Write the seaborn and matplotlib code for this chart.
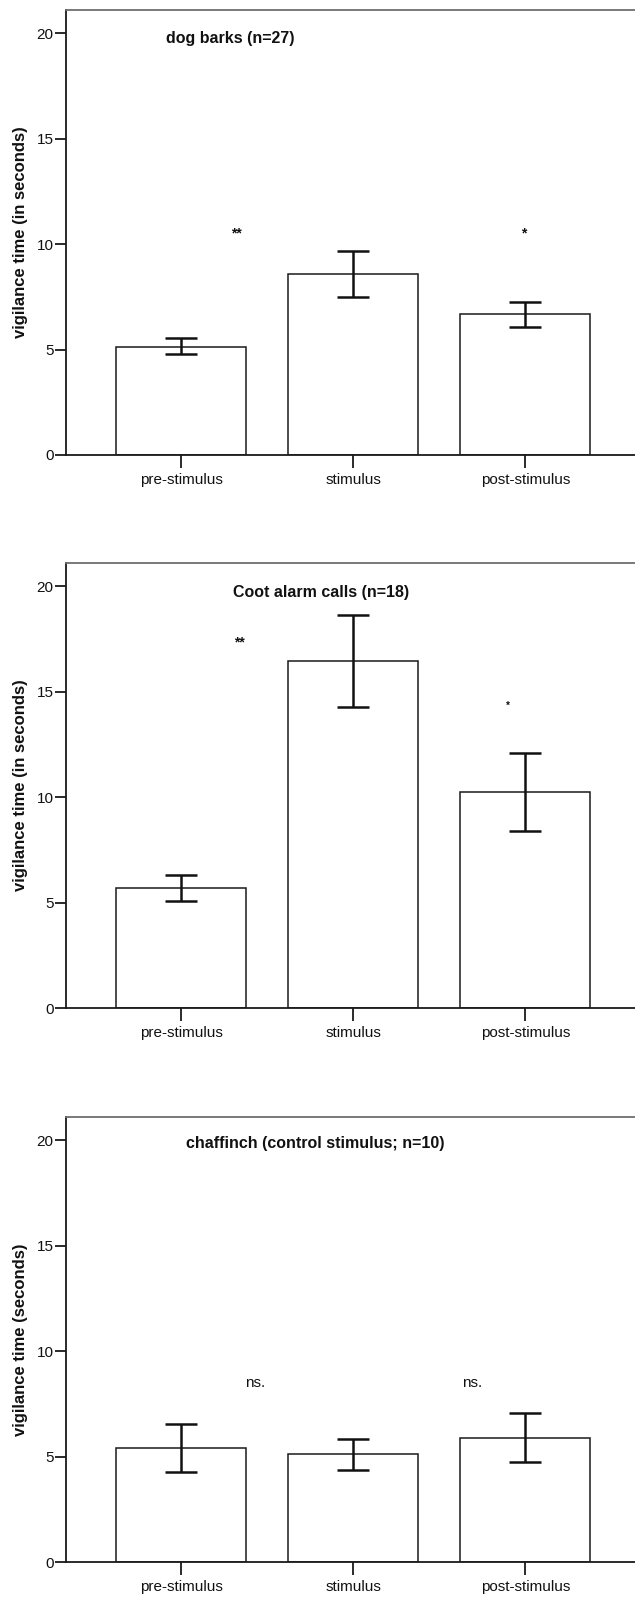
import numpy as np
import pandas as pd
import matplotlib
matplotlib.use("Agg")
import matplotlib.pyplot as plt
import seaborn as sns

sns.set_style("white")
plt.rcParams['font.family'] = ['Liberation Sans', 'DejaVu Sans']
plt.rcParams['text.color'] = '#111111'
plt.rcParams['axes.labelcolor'] = '#111111'
plt.rcParams['xtick.color'] = '#111111'
plt.rcParams['ytick.color'] = '#111111'

phases = ["pre-stimulus", "stimulus", "post-stimulus"]

# dog barks (n=27)
dog_mean = [5.14, 8.57, 6.67]
dog_lo = [4.78, 7.50, 6.07]
dog_hi = [5.53, 9.68, 7.27]

# Coot alarm calls (n=18)
coot_mean = [5.68, 16.44, 10.23]
coot_lo = [5.05, 14.27, 8.39]
coot_hi = [6.29, 18.62, 12.07]

# chaffinch control (n=10)
chaf_mean = [5.42, 5.13, 5.90]
chaf_lo = [4.27, 4.38, 4.74]
chaf_hi = [6.52, 5.84, 7.07]

panels = [
    dict(title="dog barks (n=27)", title_x=-0.09, title_y=19.76,
         ylabel="vigilance time (in seconds)",
         mean=dog_mean, lo=dog_lo, hi=dog_hi,
         marks=[(0.32, 10.5, "**", 10), (1.99, 10.5, "*", 10)], ns=False),
    dict(title="Coot alarm calls (n=18)", title_x=0.30, title_y=19.72,
         ylabel="vigilance time (in seconds)",
         mean=coot_mean, lo=coot_lo, hi=coot_hi,
         marks=[(0.34, 17.33, "**", 10), (1.90, 14.32, "*", 7)], ns=False),
    dict(title="chaffinch (control stimulus; n=10)", title_x=0.03, title_y=19.84,
         ylabel="vigilance time (seconds)",
         mean=chaf_mean, lo=chaf_lo, hi=chaf_hi,
         marks=[(0.43, 8.49, "ns.", 11), (1.69, 8.49, "ns.", 11)], ns=True),
]

fig = plt.figure(figsize=(6.35, 15.97), dpi=100)
W, H = 635, 1597
left_px, top_px = 66, [10, 563, 1117]
ax_h = 445

for p, top in zip(panels, top_px):
    ax = fig.add_axes([left_px / W, 1 - (top + ax_h) / H, (W - left_px) / W + 0.002, ax_h / H])
    df = pd.DataFrame({"phase": phases, "time": p["mean"]})
    sns.barplot(data=df, x="phase", y="time", order=phases, color="white",
                edgecolor="#1a1a1a", linewidth=1.1, width=0.756, errorbar=None, ax=ax)
    mean = np.array(p["mean"])
    yerr = [mean - np.array(p["lo"]), np.array(p["hi"]) - mean]
    ax.errorbar(phases, mean, yerr=yerr, fmt="none", ecolor="#111111",
                elinewidth=1.8, capsize=11.5, capthick=1.8, zorder=5)

    ax.set_xlim(-0.669, 2.645)
    ax.set_ylim(0, 21.1)
    ax.set_yticks([0, 5, 10, 15, 20])
    ax.set_xlabel("")
    ax.set_ylabel(p["ylabel"], fontsize=12, fontweight="bold", labelpad=6)
    ax.tick_params(axis="both", which="major", direction="out", labelsize=11,
                   width=1.3, color="#1a1a1a", bottom=True, left=True)
    ax.tick_params(axis="y", length=8, pad=1)
    ax.tick_params(axis="x", length=9, pad=4)

    for side in ["left", "bottom"]:
        ax.spines[side].set_color("#1a1a1a")
        ax.spines[side].set_linewidth(1.3)
    ax.spines["top"].set_color("#6e6e6e")
    ax.spines["top"].set_linewidth(1.3)
    ax.spines["right"].set_visible(False)

    ax.text(p["title_x"], p["title_y"], p["title"], fontsize=11.5,
            fontweight="bold", ha="left", va="center")
    for x, y, s, fs in p["marks"]:
        ax.text(x, y, s, fontsize=fs, ha="center", va="center",
                fontweight="normal" if p["ns"] else "bold")

fig.savefig("out.png", dpi=100)
